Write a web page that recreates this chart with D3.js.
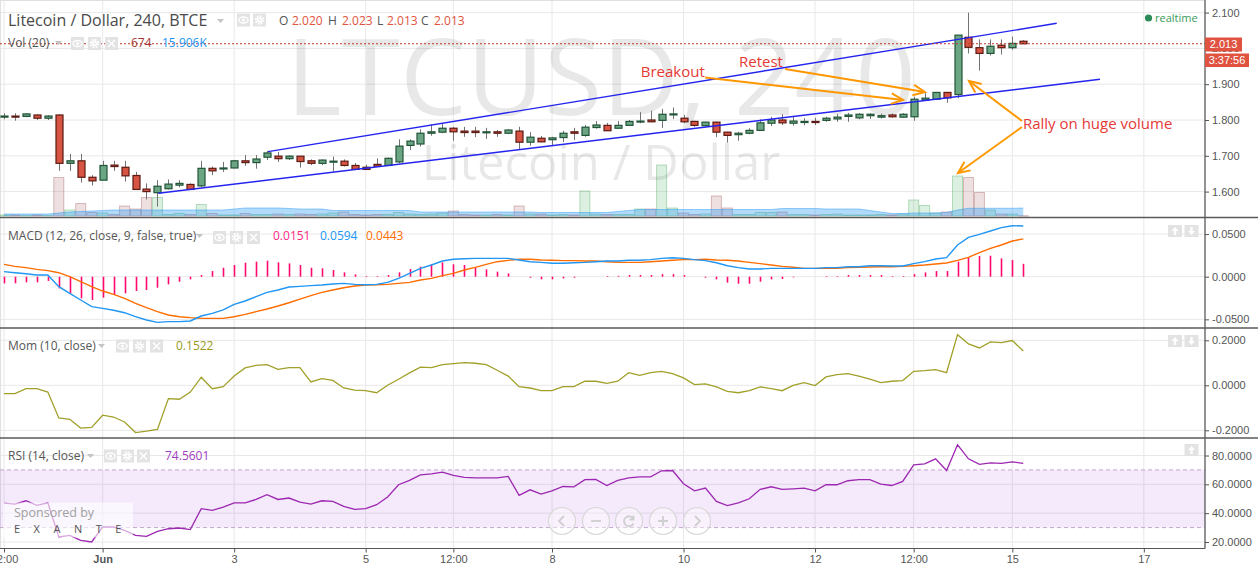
<!DOCTYPE html>
<html><head><meta charset="utf-8">
<script src="https://cdn.jsdelivr.net/npm/d3@7"></script>
<style>body{margin:0;background:#fff;}svg{display:block;font-family:'Open Sans',sans-serif;}</style>
</head><body><svg id="c" width="1258" height="570"></svg>
<script>
// ---------- DATA ----------
const openP=[1.808,1.811,1.810,1.814,1.805,1.814,1.679,1.686,1.640,1.632,
1.674,1.668,1.645,1.607,1.597,1.608,1.618,1.620,1.616,1.665,
1.664,1.666,1.686,1.681,1.696,1.699,1.692,1.699,1.686,1.679,
1.684,1.685,1.673,1.668,1.676,1.673,1.683,1.729,1.733,1.763,
1.766,1.777,1.769,1.769,1.765,1.767,1.763,1.769,1.738,1.749,
1.745,1.751,1.767,1.757,1.779,1.785,1.777,1.785,1.796,1.800,
1.799,1.816,1.805,1.796,1.784,1.794,1.766,1.759,1.763,1.771,
1.791,1.800,1.791,1.793,1.796,1.799,1.803,1.810,1.806,1.812,
1.808,1.814,1.808,1.809,1.856,1.858,1.877,1.871,2.031,2.002,
1.986,2.009,2.002,2.020];
const highP=[1.819,1.819,1.819,1.816,1.814,1.816,1.705,1.705,1.646,1.686,
1.686,1.686,1.655,1.623,1.632,1.634,1.632,1.623,1.686,1.670,
1.683,1.688,1.702,1.702,1.714,1.711,1.702,1.699,1.690,1.690,
1.698,1.690,1.680,1.675,1.693,1.695,1.746,1.746,1.774,1.788,
1.791,1.781,1.781,1.781,1.778,1.772,1.774,1.781,1.766,1.755,
1.753,1.770,1.778,1.786,1.797,1.792,1.797,1.800,1.822,1.826,
1.831,1.835,1.814,1.798,1.795,1.795,1.767,1.767,1.777,1.802,
1.809,1.816,1.809,1.805,1.806,1.809,1.817,1.820,1.819,1.819,
1.818,1.818,1.819,1.865,1.875,1.877,1.877,2.037,2.100,2.025,
2.025,2.025,2.033,2.023];
const lowP=[1.802,1.798,1.808,1.800,1.800,1.658,1.658,1.625,1.617,1.632,
1.658,1.628,1.606,1.578,1.558,1.606,1.612,1.605,1.612,1.646,
1.655,1.665,1.672,1.664,1.688,1.683,1.688,1.667,1.674,1.674,
1.656,1.670,1.660,1.660,1.669,1.673,1.679,1.716,1.726,1.756,
1.763,1.742,1.753,1.752,1.747,1.753,1.761,1.719,1.728,1.738,
1.729,1.738,1.744,1.753,1.776,1.770,1.776,1.785,1.791,1.794,
1.778,1.803,1.791,1.781,1.781,1.752,1.737,1.742,1.760,1.770,
1.783,1.786,1.784,1.785,1.786,1.795,1.795,1.795,1.802,1.803,
1.804,1.807,1.806,1.798,1.854,1.856,1.848,1.861,1.986,1.938,
1.980,1.983,1.996,2.013];
const closeP=[1.811,1.808,1.817,1.805,1.811,1.679,1.686,1.640,1.630,1.673,
1.670,1.644,1.606,1.600,1.615,1.621,1.623,1.606,1.665,1.658,
1.666,1.686,1.681,1.691,1.708,1.692,1.699,1.684,1.679,1.688,
1.685,1.673,1.662,1.662,1.671,1.693,1.727,1.741,1.763,1.767,
1.777,1.767,1.765,1.765,1.767,1.763,1.772,1.738,1.752,1.739,
1.750,1.763,1.763,1.780,1.786,1.770,1.785,1.796,1.797,1.795,
1.816,1.817,1.795,1.785,1.794,1.766,1.757,1.763,1.771,1.792,
1.800,1.792,1.797,1.796,1.793,1.805,1.808,1.814,1.816,1.816,
1.812,1.809,1.816,1.858,1.861,1.877,1.862,2.037,2.003,1.986,
2.006,2.002,2.014,2.013];
// volume in thousands
const volume=[2,2,1,2,1,77,12,25,7,6,
3,20,14,37,37,3,5,3,23,5,
2,2,5,3,3,4,3,4,3,4,
6,8,3,2,3,3,7,4,3,4,
6,10,3,2,2,3,2,20,4,4,
2,3,2,50,4,3,3,3,14,14,
102,16,6,3,4,40,16,3,3,7,
7,8,3,3,2,3,4,2,2,2,
3,2,4,32,21,6,8,80,77,47,
12,4,4,0.674];
const volumeMA=[4,4,4,4,4,6,8,9,10,11,
12,12,12,12,12,12,12,12,12,12,
12,14,16,16,16,16,15,14,14,14,
11,11,11,11,11,11,11,11,8,8,
8,8,8,8,8,8,8,8,8,7,
7,7,7,7,7,7,9,11,13,13,
13,13,13,13,13,13,13,13,13,13,
13,15,15,15,15,14,14,14,14,11,
8,5,5,6,6,6,7,12,15.5,15.5,
15.5,15.5,15.5,15.906];
const macdHist=[-0.0078,-0.0078,-0.0066,-0.0066,-0.0050,-0.0137,-0.0195,-0.0254,-0.0273,-0.0246,
-0.0215,-0.0195,-0.0168,-0.0156,-0.0129,-0.0090,-0.0059,-0.0031,0.0020,0.0066,
0.0105,0.0137,0.0164,0.0176,0.0188,0.0168,0.0156,0.0137,0.0105,0.0098,
0.0078,0.0051,0.0027,0.0008,0.0008,0.0020,0.0051,0.0090,0.0117,0.0145,
0.0168,0.0145,0.0137,0.0105,0.0086,0.0059,0.0039,0.0000,-0.0012,-0.0031,
-0.0031,-0.0020,-0.0012,0.0000,0.0000,0.0008,0.0010,0.0020,0.0020,0.0020,
0.0030,0.0030,0.0020,0.0000,-0.0012,-0.0031,-0.0070,-0.0082,-0.0082,-0.0059,
-0.0031,-0.0027,-0.0008,0.0000,0.0000,0.0008,0.0008,0.0020,0.0020,0.0020,
0.0020,0.0008,0.0008,0.0030,0.0050,0.0066,0.0066,0.0176,0.0227,0.0242,
0.0246,0.0215,0.0195,0.0151];
const macdLine=[0.0059,0.0047,0.0035,0.0020,0.0020,-0.0117,-0.0195,-0.0273,-0.0351,-0.0371,
-0.0394,-0.0422,-0.0469,-0.0508,-0.0535,-0.0527,-0.0527,-0.0519,-0.0461,-0.0430,
-0.0390,-0.0324,-0.0285,-0.0234,-0.0183,-0.0156,-0.0121,-0.0113,-0.0105,-0.0097,
-0.0086,-0.0078,-0.0090,-0.0094,-0.0090,-0.0066,-0.0019,0.0039,0.0098,0.0137,
0.0184,0.0204,0.0211,0.0215,0.0215,0.0215,0.0215,0.0196,0.0176,0.0168,
0.0157,0.0157,0.0164,0.0168,0.0176,0.0184,0.0184,0.0192,0.0192,0.0200,
0.0215,0.0223,0.0215,0.0200,0.0188,0.0164,0.0129,0.0106,0.0090,0.0090,
0.0098,0.0098,0.0098,0.0098,0.0098,0.0106,0.0106,0.0117,0.0117,0.0129,
0.0129,0.0125,0.0125,0.0153,0.0176,0.0207,0.0223,0.0372,0.0461,0.0497,
0.0536,0.0575,0.0598,0.0594];
const signalLine=[0.0145,0.0121,0.0106,0.0086,0.0071,0.0047,0.0000,-0.0058,-0.0117,-0.0168,
-0.0207,-0.0254,-0.0312,-0.0363,-0.0410,-0.0449,-0.0469,-0.0480,-0.0488,-0.0488,
-0.0488,-0.0469,-0.0441,-0.0410,-0.0379,-0.0344,-0.0305,-0.0262,-0.0222,-0.0183,
-0.0156,-0.0129,-0.0109,-0.0097,-0.0094,-0.0090,-0.0078,-0.0066,-0.0039,-0.0019,
0.0012,0.0039,0.0078,0.0110,0.0145,0.0176,0.0192,0.0204,0.0204,0.0196,
0.0192,0.0188,0.0188,0.0184,0.0184,0.0176,0.0168,0.0168,0.0168,0.0176,
0.0184,0.0192,0.0200,0.0200,0.0204,0.0196,0.0192,0.0184,0.0168,0.0153,
0.0137,0.0121,0.0110,0.0098,0.0098,0.0098,0.0098,0.0106,0.0110,0.0114,
0.0117,0.0117,0.0121,0.0129,0.0137,0.0149,0.0161,0.0192,0.0227,0.0282,
0.0332,0.0372,0.0418,0.0443];
const momentum=[-0.037,-0.037,-0.015,-0.015,-0.030,-0.145,-0.151,-0.190,-0.187,-0.133,
-0.141,-0.163,-0.210,-0.204,-0.196,-0.059,-0.062,-0.030,0.036,-0.015,
-0.006,0.041,0.077,0.089,0.092,0.071,0.079,0.079,0.015,0.030,
0.022,-0.012,-0.021,-0.024,-0.033,0.000,0.027,0.055,0.081,0.079,
0.092,0.096,0.101,0.098,0.092,0.067,0.041,-0.006,-0.012,-0.024,
-0.024,-0.006,-0.006,0.018,0.018,0.009,0.018,0.056,0.044,0.056,
0.062,0.052,0.033,0.003,0.006,-0.007,-0.027,-0.033,-0.024,-0.007,
-0.015,-0.024,0.000,0.012,-0.001,0.037,0.047,0.052,0.041,0.027,
0.012,0.018,0.021,0.062,0.065,0.070,0.056,0.225,0.184,0.166,
0.193,0.190,0.199,0.1522];
const rsi=[47.0,46.3,48.6,45.4,47.2,23.5,24.6,21.2,20.0,30.4,
30.4,28.1,24.6,23.9,27.4,29.2,29.7,28.6,43.1,41.9,
44.2,47.2,47.2,49.5,52.8,49.5,50.5,47.7,46.3,48.6,
48.2,44.7,42.6,43.1,45.9,51.2,59.7,62.7,66.6,67.3,
68.5,66.2,64.8,64.5,64.5,64.5,65.5,52.3,56.2,53.2,
55.5,58.5,58.3,63.2,63.4,59.2,62.7,64.5,65.2,65.2,
69.4,69.6,60.4,55.5,57.4,48.2,45.2,47.2,50.0,56.5,
58.3,56.5,56.9,57.4,55.5,59.7,59.7,62.5,63.2,63.2,
60.2,59.2,62.0,73.5,74.2,77.7,69.6,87.4,77.7,73.8,
74.9,74.5,75.6,74.5601];
const xTickIndex=[0,9,21,33,41,50,62,74,83,92,104];
const xTickLabels=["12:00","Jun","3","5","12:00","8","10","12","12:00","15","17"];
const priceTicks=[1.6,1.7,1.8,1.9,2.0,2.1];
const macdTicks=[-0.05,0,0.05];
const momTicks=[-0.2,0,0.2];
const rsiTicks=[20,40,60,80];
const lastPrice=2.013;
const lastVolume=674;
// trend channel (candle index, price)
const channelUpper=[[24.09,1.7115],[96.05,2.0701]];
const channelLower=[[14.08,1.5953],[100.0,1.9137]];
// annotations (candle index, price)
const notes=[{t:"Breakout",i:58.1,p:1.920},{t:"Retest",i:67.06,p:1.948},{t:"Rally on huge volume",i:92.97,p:1.775}];
const arrows=[[[63.96,1.9187],[82.03,1.8559]],[[71.26,1.9425],[84.03,1.8782]],
[[92.88,1.7972],[88.05,1.9089]],[[92.88,1.7804],[87.04,1.6520]]];

// ---------- SETUP ----------
const svg=d3.select("#c");
const plotR=1205;
const P={main:[0,217.5],macd:[217.5,328],mom:[328,438],rsi:[438,548.5]};
const x=d3.scaleLinear().domain([0,100]).range([4,1100]);
const yP=d3.scaleLinear().domain([1.6,2.1]).range([191.6,12.6]);
const yV=d3.scaleLinear().domain([0,100]).range([216,166]);
const yM=d3.scaleLinear().domain([-0.05,0.05]).range([319.35,234.05]);
const yMo=d3.scaleLinear().domain([-0.2,0.2]).range([430.3,340.3]);
const yR=d3.scaleLinear().domain([20,80]).range([542,455.5]);
const idx=d3.range(openP.length);
const last=openP.length-1;
const GRID="#e8e8e8";

svg.append("rect").attr("width",1258).attr("height",570).attr("fill","#fff");
const defs=svg.append("defs");
Object.entries(P).forEach(([k,[a,b]])=>{
  defs.append("clipPath").attr("id","clip-"+k).append("rect").attr("x",0).attr("y",a).attr("width",plotR).attr("height",b-a);
});

// grid
const grid=svg.append("g");
Object.entries(P).forEach(([k,[a,b]])=>{
  xTickIndex.forEach(i=>grid.append("line").attr("x1",x(i)).attr("x2",x(i)).attr("y1",a).attr("y2",b).attr("stroke",GRID));
});
const hgrid=(ticks,sc)=>ticks.forEach(t=>grid.append("line").attr("x1",0).attr("x2",plotR).attr("y1",sc(t)).attr("y2",sc(t)).attr("stroke",GRID));
hgrid(priceTicks,yP);hgrid(macdTicks,yM);hgrid(momTicks,yMo);hgrid(rsiTicks,yR);
grid.append("rect").attr("x",0.5).attr("y",0.5).attr("width",plotR-0.5).attr("height",548).attr("fill","none").attr("stroke","#e0e0e0");

// ---------- MAIN PANEL ----------
const main=svg.append("g").attr("clip-path","url(#clip-main)");
main.append("text").attr("x",601).attr("y",115).attr("text-anchor","middle").attr("font-size",106).attr("fill","rgba(0,0,0,0.09)").text("LTCUSD, 240");
main.append("text").attr("x",601).attr("y",180).attr("text-anchor","middle").attr("font-size",49).attr("fill","rgba(0,0,0,0.09)").text("Litecoin / Dollar");

// volume
main.selectAll("rect.vol").data(idx).enter().append("rect").attr("class","vol")
 .attr("x",i=>x(i)-5).attr("width",10)
 .attr("y",i=>yV(volume[i])).attr("height",i=>Math.max(0.5,yV(0)-yV(volume[i])))
 .attr("fill",i=>closeP[i]>=openP[i]?"rgba(60,170,90,0.18)":"rgba(140,50,50,0.15)")
 .attr("stroke",i=>closeP[i]>=openP[i]?"rgba(60,160,80,0.35)":"rgba(140,50,50,0.3)");
const volArea=d3.area().x(i=>x(i)).y0(yV(0)).y1(i=>yV(volumeMA[i]));
main.append("path").attr("d",volArea(idx)).attr("fill","rgba(33,150,243,0.35)");
main.append("path").attr("d",d3.line().x(i=>x(i)).y(i=>yV(volumeMA[i]))(idx)).attr("fill","none").attr("stroke","rgba(33,150,243,0.45)");

// candles
const cg=main.append("g");
idx.forEach(i=>{
  const up=closeP[i]>=openP[i];
  cg.append("line").attr("x1",Math.round(x(i))+0.5).attr("x2",Math.round(x(i))+0.5).attr("y1",yP(highP[i])).attr("y2",yP(lowP[i])).attr("stroke","#737375");
  const t=Math.min(yP(openP[i]),yP(closeP[i])), h=Math.max(1,Math.abs(yP(openP[i])-yP(closeP[i])));
  cg.append("rect").attr("x",Math.round(x(i))-3).attr("width",7).attr("y",t).attr("height",h)
   .attr("fill",up?"#6ba583":"#d75442").attr("stroke",up?"#225437":"#5b1a13").attr("stroke-width",1.2);
});
// channel
[channelUpper,channelLower].forEach(c=>main.append("line").attr("x1",x(c[0][0])).attr("y1",yP(c[0][1])).attr("x2",x(c[1][0])).attr("y2",yP(c[1][1])).attr("stroke","#2424f0").attr("stroke-width",1.4));
// last price line
main.append("line").attr("x1",0).attr("x2",plotR).attr("y1",yP(lastPrice)).attr("y2",yP(lastPrice)).attr("stroke","#c0392b").attr("stroke-dasharray","2,2");
// arrows
const ORANGE="#ff9800";
arrows.forEach(([[i1,p1],[i2,p2]])=>{
  const x1=x(i1),y1=yP(p1),x2=x(i2),y2=yP(p2);
  main.append("line").attr("x1",x1).attr("y1",y1).attr("x2",x2).attr("y2",y2).attr("stroke",ORANGE).attr("stroke-width",2);
  const a=Math.atan2(y2-y1,x2-x1),L=13,s=0.42;
  main.append("path").attr("d",`M${x2-L*Math.cos(a-s)},${y2-L*Math.sin(a-s)}L${x2},${y2}L${x2-L*Math.cos(a+s)},${y2-L*Math.sin(a+s)}`)
   .attr("fill","none").attr("stroke",ORANGE).attr("stroke-width",2);
});
notes.forEach(n=>main.append("text").attr("x",x(n.i)).attr("y",yP(n.p)).attr("font-size",15).attr("fill","#e53935").text(n.t));

// ---------- MACD ----------
const mg=svg.append("g").attr("clip-path","url(#clip-macd)");
mg.selectAll("line.h").data(idx).enter().append("line").attr("class","h")
 .attr("x1",i=>Math.round(x(i))+0.5).attr("x2",i=>Math.round(x(i))+0.5).attr("y1",yM(0)).attr("y2",i=>yM(macdHist[i]))
 .attr("stroke","#ff0a6c").attr("stroke-width",1.6);
mg.append("path").attr("d",d3.line().x(i=>x(i)).y(i=>yM(signalLine[i]))(idx)).attr("fill","none").attr("stroke","#ff6d00").attr("stroke-width",1.4);
mg.append("path").attr("d",d3.line().x(i=>x(i)).y(i=>yM(macdLine[i]))(idx)).attr("fill","none").attr("stroke","#2196f3").attr("stroke-width",1.4);

// ---------- MOM ----------
const mo=svg.append("g").attr("clip-path","url(#clip-mom)");
mo.append("path").attr("d",d3.line().x(i=>x(i)).y(i=>yMo(momentum[i]))(idx)).attr("fill","none").attr("stroke","#a0a02a").attr("stroke-width",1.3);

// ---------- RSI ----------
const rg=svg.append("g").attr("clip-path","url(#clip-rsi)");
rg.append("rect").attr("x",0).attr("width",plotR).attr("y",yR(70)).attr("height",yR(30)-yR(70)).attr("fill","rgba(160,60,230,0.11)");
[70,30].forEach(v=>rg.append("line").attr("x1",0).attr("x2",plotR).attr("y1",yR(v)).attr("y2",yR(v)).attr("stroke","#c3a8cf").attr("stroke-dasharray","4,3"));
rg.append("path").attr("d",d3.line().x(i=>x(i)).y(i=>yR(rsi[i]))(idx)).attr("fill","none").attr("stroke","#9c27b0").attr("stroke-width",1.3);
// sponsor overlay
rg.append("rect").attr("x",3).attr("y",502.5).attr("width",130).attr("height",35).attr("fill","rgba(255,255,255,0.6)");
rg.append("text").attr("x",14).attr("y",517).attr("font-size",12.5).attr("fill","#a0a0a0").text("Sponsored by");
rg.append("text").attr("x",14).attr("y",533).attr("font-size",11).attr("letter-spacing","13.5px").attr("fill","#555").text("EXANTE");
// nav buttons
const nav=svg.append("g");
[562,596,629,663,697].forEach((cx,k)=>{
  nav.append("circle").attr("cx",cx).attr("cy",521).attr("r",13.5).attr("fill","rgba(255,255,255,0.4)").attr("stroke","#d8d8d8").attr("stroke-width",1.2);
  const s=nav.append("g").attr("transform",`translate(${cx},521)`).attr("stroke","#cfcfcf").attr("stroke-width",1.8).attr("fill","none");
  if(k===0) s.append("path").attr("d","M2,-5L-3,0L2,5");
  if(k===4) s.append("path").attr("d","M-2,-5L3,0L-2,5");
  if(k===1) s.append("path").attr("d","M-5,0H5");
  if(k===3) s.append("path").attr("d","M-5,0H5M0,-5V5");
  if(k===2) s.append("path").attr("d","M4.5,-2A5,5 0 1 0 4.5,2.5M4.5,-5.5V-1.5H0.5");
});

// ---------- AXES ----------
const fmtFix=f=>d=>d3.format(f)(d).replace("\u2212","-");
function rightAxis(sc,ticks,f){
  const g=svg.append("g").attr("transform",`translate(${plotR},0)`)
    .call(d3.axisRight(sc).tickValues(ticks).tickFormat(fmtFix(f)).tickSize(4).tickPadding(3));
  g.attr("font-size",11).attr("font-family","'Liberation Sans',Arial,sans-serif");
  g.select(".domain").remove();
  g.selectAll("line").attr("stroke","#555");
  g.selectAll("text").attr("fill","#555");
}
rightAxis(yP,priceTicks,".3f");
rightAxis(yM,macdTicks,".4f");
rightAxis(yMo,momTicks,".4f");
rightAxis(yR,rsiTicks,".4f");
const xa=svg.append("g").attr("transform","translate(0,548.5)")
 .call(d3.axisBottom(x).tickValues(xTickIndex).tickFormat((d,k)=>xTickLabels[k]).tickSize(4).tickPadding(3));
xa.attr("font-size",11).attr("font-family","'Liberation Sans',Arial,sans-serif");
xa.select(".domain").remove();
xa.selectAll("line").attr("stroke","#555");
xa.selectAll("text").attr("fill","#555").attr("font-weight",(d,k)=>xTickLabels[k]==="Jun"?"bold":null);
// frame lines
svg.append("line").attr("x1",plotR).attr("x2",plotR).attr("y1",0).attr("y2",548.5).attr("stroke","#555").attr("stroke-width",1.2);
svg.append("line").attr("x1",0).attr("x2",plotR).attr("y1",548.5).attr("y2",548.5).attr("stroke","#555").attr("stroke-width",1.2);
[217.5,328,438].forEach(y=>svg.append("line").attr("x1",0).attr("x2",1258).attr("y1",y).attr("y2",y).attr("stroke","#5a5a5a").attr("stroke-width",1.4));

// price labels
const pl=svg.append("g");
pl.append("rect").attr("x",1205).attr("y",37.5).attr("width",37).attr("height",14).attr("fill","#df5340");
pl.append("text").attr("x",1223.5).attr("y",48.3).attr("text-anchor","middle").attr("font-size",11).attr("font-family","'Liberation Sans',Arial,sans-serif").attr("fill","#fff").text(lastPrice.toFixed(3));
pl.append("rect").attr("x",1205).attr("y",53.5).attr("width",44).attr("height",13.5).attr("fill","#df5340");
pl.append("text").attr("x",1227).attr("y",64).attr("text-anchor","middle").attr("font-size",11).attr("font-family","'Liberation Sans',Arial,sans-serif").attr("fill","#fff").text("3:37:56");

// ---------- HEADERS ----------
const hd=svg.append("g");
function tri(x0,y0){hd.append("path").attr("d",`M${x0},${y0}h7l-3.5,4z`).attr("fill","#c4c4c4");}
function icons(xs,y0,n){
  xs.slice(0,n||3).forEach((x0,k)=>{
    hd.append("rect").attr("x",x0).attr("y",y0).attr("width",13).attr("height",13).attr("fill","#e3e3e3");
    const cx=x0+6.5,cy=y0+6.5;
    if(k===0){hd.append("ellipse").attr("cx",cx).attr("cy",cy).attr("rx",4.6).attr("ry",3).attr("fill","none").attr("stroke","#fff").attr("stroke-width",1.3);
      hd.append("circle").attr("cx",cx).attr("cy",cy).attr("r",1.6).attr("fill","#fff");}
    if(k===1){hd.append("circle").attr("cx",cx).attr("cy",cy).attr("r",3.6).attr("fill","none").attr("stroke","#fff").attr("stroke-width",2.4).attr("stroke-dasharray","1.6,1.2");
      hd.append("circle").attr("cx",cx).attr("cy",cy).attr("r",2.6).attr("fill","#fff");hd.append("circle").attr("cx",cx).attr("cy",cy).attr("r",1.1).attr("fill","#e3e3e3");}
    if(k===2){hd.append("path").attr("d",`M${cx-3.5},${cy-3.5}L${cx+3.5},${cy+3.5}M${cx+3.5},${cy-3.5}L${cx-3.5},${cy+3.5}`).attr("stroke","#fff").attr("stroke-width",1.5);}
  });
}
function txt(x0,y0,s,size,col){return hd.append("text").attr("x",x0).attr("y",y0).attr("font-size",size).attr("fill",col).text(s);}
txt(8,26,"Litecoin / Dollar, 240, BTCE",16,"#4a4a4a");
tri(217,19);icons([237,253],13.5,2);
const RED="#df5340";
txt(279,25,"O",12,"#555");txt(292,25,openP[last].toFixed(3),12,RED);
txt(328,25,"H",12,"#555");txt(342,25,highP[last].toFixed(3),12,RED);
txt(377,25,"L",12,"#555");txt(387,25,lowP[last].toFixed(3),12,RED);
txt(421,25,"C",12,"#555");txt(434,25,closeP[last].toFixed(3),12,RED);
txt(8,47,"Vol (20)",12,"#555");tri(55,41);icons([71,88,105],37);
txt(131,47,String(lastVolume),12,"#a5352f");txt(162,47,volumeMA[last].toFixed(3)+"K",12,"#2196f3");
// realtime
hd.append("circle").attr("cx",1148.5).attr("cy",18).attr("r",3.6).attr("fill","#2e8b57");
txt(1155,22,"realtime",11,"#3a9a5b");
// MACD
txt(8,240,"MACD (12, 26, close, 9, false, true)",12,"#555");tri(196,234);icons([213,230,247],231);
txt(273,240,macdHist[last].toFixed(4),12,"#ff2a7f");txt(320,240,macdLine[last].toFixed(4),12,"#2196f3");txt(366,240,signalLine[last].toFixed(4),12,"#ff6d00");
// Mom
txt(8,350,"Mom (10, close)",12,"#555");tri(98,344);icons([116,133,150],339.5);
txt(176,350,momentum[last].toFixed(4),12,"#9a9a22");
// RSI
txt(8,460,"RSI (14, close)",12,"#555");tri(87,454);icons([104,121,137],449.5);
txt(165,460,rsi[last].toFixed(4),12,"#a03cc0");
// up/down buttons
function btn(x0,y0,up){hd.append("rect").attr("x",x0).attr("y",y0).attr("width",14).attr("height",12).attr("fill","#e3e3e3");
  const cx=x0+7,cy=y0+6;hd.append("path").attr("d",up?`M${cx},${cy-4}L${cx-3.5},${cy}H${cx-1.2}V${cy+4}H${cx+1.2}V${cy}H${cx+3.5}Z`:`M${cx},${cy+4}L${cx-3.5},${cy}H${cx-1.2}V${cy-4}H${cx+1.2}V${cy}H${cx+3.5}Z`).attr("fill","#fff");}
btn(1168,225,true);btn(1184.5,225,false);
btn(1168,335,true);btn(1184.5,335,false);
btn(1184.5,444,true);
</script></body></html>
